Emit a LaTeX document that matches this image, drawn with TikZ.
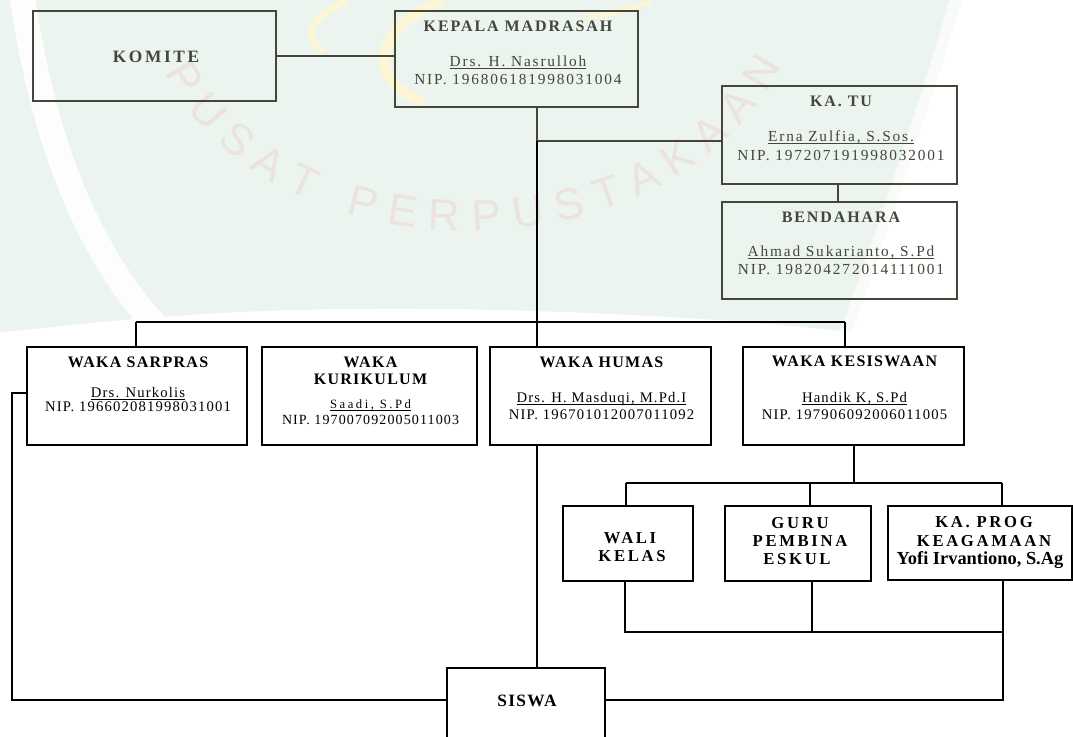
\documentclass[tikz,border=0pt]{standalone}
\usepackage{fontspec}
\setmainfont{Liberation Serif}
\newfontfamily\lsA[LetterSpace=12]{Liberation Serif}
\newfontfamily\lsB[LetterSpace=8]{Liberation Serif}
\newfontfamily\lsC[LetterSpace=16]{Liberation Serif}
\newfontfamily\lsK[LetterSpace=15]{Liberation Serif}
\newfontfamily\lsS[LetterSpace=20]{Liberation Serif}
\newfontfamily\wmf{Liberation Sans}
\usetikzlibrary{fit,decorations.text}
\newcommand\ulin[1]{\setbox0\hbox{#1}\rlap{\rule[-1.9pt]{\wd0}{0.55pt}}\box0}
\definecolor{topc}{HTML}{45453A}
\definecolor{mint}{HTML}{EBF4EE}
\definecolor{wmy}{HTML}{FCF5D6}
\definecolor{wmt}{HTML}{ECE2E2}
\tikzset{
  box/.style={draw, rectangle, inner sep=0pt, line width=0.8pt},
  lbl/.style={anchor=base, inner sep=0pt},
  ttl/.style={lbl, font=\lsA\fontsize{12}{14}\selectfont\bfseries},
  reg/.style={lbl, font=\lsA\fontsize{11.5}{14}\selectfont},
  ttlb/.style={lbl, font=\lsB\fontsize{12}{14}\selectfont\bfseries},
  regb/.style={lbl, font=\lsB\fontsize{11}{13}\selectfont},
  ttlc/.style={lbl, font=\lsC\fontsize{12.5}{14}\selectfont\bfseries},
  conn/.style={line width=0.8pt},
}
\begin{document}
\begin{tikzpicture}[x=0.75pt, y=-0.75pt]
\clip (0,0) rectangle (1073,736);
\fill[white] (0,0) rectangle (1073,736);
% watermark approximation
\fill[mint] (0,0) -- (962,0) .. controls (935,90) and (885,240) .. (852,332)
  .. controls (650,310) and (350,300) .. (150,318) .. controls (90,322) and (30,330) .. (0,332) -- cycle;
\draw[white, line width=19pt, opacity=0.85] (22,-5) .. controls (40,120) and (80,250) .. (165,335);
\draw[white, line width=16pt, opacity=0.7] (962,-5) .. controls (935,90) and (885,240) .. (850,335);
\path[decorate, decoration={text along path, text align={fit to path}, text color=wmt,
  text={|\wmf\fontsize{33}{33}\selectfont|PUSAT PERPUSTAKAAN}}]
  (165,72) .. controls (270,285) and (670,285) .. (782,66);
\draw[wmy, line width=5pt, line cap=round] (345,2) .. controls (308,18) and (303,40) .. (322,50);
\draw[wmy, line width=8pt, line cap=round] (440,2) .. controls (372,30) and (367,80) .. (420,100);
\draw[wmy, line width=4pt, line cap=round] (650,2) .. controls (620,12) and (600,18) .. (585,16);

\node[box, draw=topc, fit={(33,11) (276,101)}] (komite) {};
\node[box, draw=topc, fit={(395,11) (638,107)}] (kepala) {};
\node[box, draw=topc, fit={(722,86) (957,184)}] (katu) {};
\node[box, draw=topc, fit={(722,202) (957,299)}] (bend) {};
\node[lbl, font=\lsK\fontsize{13}{15}\selectfont\bfseries, text=topc] (tkomite) at (156,62.5) {KOMITE};
\node[ttl, text=topc] (tkepala) at (518,31.5) {KEPALA MADRASAH};
\node[reg, text=topc] (nkepala) at (518,66) {\ulin{Drs. H. Nasrulloh}};
\node[reg, text=topc] (pkepala) at (518,84) {NIP. 196806181998031004};
\node[ttl, text=topc] (tkatu) at (841,106) {KA. TU};
\node[reg, text=topc] (nkatu) at (841,141) {\ulin{Erna Zulfia, S.Sos.}};
\node[reg, text=topc] (pkatu) at (841,160) {NIP. 197207191998032001};
\node[ttl, text=topc] (tbend) at (841,222) {BENDAHARA};
\node[reg, text=topc] (nbend) at (841,256) {\ulin{Ahmad Sukarianto, S.Pd}};
\node[reg, text=topc] (pbend) at (841,274) {NIP. 198204272014111001};

\draw[conn, topc] (komite.east) -- (komite.east -| kepala.west);
\coordinate (kb) at (kepala.south -| 537,0);
\coordinate (kj) at (537,141);
\draw[conn, topc] (kb) -- (kj) -- (katu.west |- kj);
\draw[conn, topc] (katu.south -| 838,0) -- (bend.north -| 838,0);

% row 2
\node[box, fit={(27,347) (247,445)}] (sarpras) {};
\node[box, fit={(262,347) (477,445)}] (kurik) {};
\node[box, fit={(490,347) (711,445)}] (humas) {};
\node[box, fit={(743,347) (964,445)}] (kesis) {};
\node[ttlb] (tsar) at (138,367) {WAKA SARPRAS};
\node[regb] (nsar) at (138,397) {\ulin{Drs. Nurkolis}};
\node[regb] (psar) at (138,411) {NIP. 196602081998031001};
\node[ttlb] (tkur1) at (370.5,367) {WAKA};
\node[ttlb] (tkur2) at (370.5,384) {KURIKULUM};
\node[lbl, font=\lsS\fontsize{9.5}{11}\selectfont] (nkur) at (370.5,408) {\ulin{Saadi, S.Pd}};
\node[lbl, font=\lsB\fontsize{10.5}{12}\selectfont] (pkur) at (370.5,424) {NIP. 197007092005011003};
\node[ttlb] (thum) at (601.5,367) {WAKA HUMAS};
\node[regb] (nhum) at (601.5,402) {\ulin{Drs. H. Masduqi, M.Pd.I}};
\node[regb] (phum) at (601.5,419) {NIP. 196701012007011092};
\node[ttlb] (tkes) at (854.5,366) {WAKA KESISWAAN};
\node[regb] (nkes) at (854.5,402) {\ulin{Handik K, S.Pd}};
\node[regb] (pkes) at (854.5,419) {NIP. 197906092006011005};

\coordinate (busL) at (136,322);
\coordinate (busR) at (845,322);
\draw[conn] (kj) -- (537,322);
\draw[conn] (busL) -- (busR);
\draw[conn] (busL) -- (sarpras.north -| busL);
\draw[conn] (537,322) -- (humas.north -| 537,0);
\draw[conn] (busR) -- (kesis.north -| busR);

% row 3
\node[box, fit={(563,506) (693,581)}] (wali) {};
\node[box, fit={(725,506) (871,581)}] (guru) {};
\node[box, fit={(888,506) (1072,580)}] (kaprog) {};
\node[ttlc] (twali1) at (630,543) {WALI};
\node[ttlc] (twali2) at (632,561) {KELAS};
\node[ttlc] (tguru1) at (800,528) {GURU};
\node[ttlc] (tguru2) at (800,546) {PEMBINA};
\node[ttlc] (tguru3) at (797,564) {ESKUL};
\node[ttlc] (tkap1) at (984,527) {KA. PROG};
\node[ttlc] (tkap2) at (984,546) {KEAGAMAAN};
\node[lbl, font=\fontsize{13.8}{15}\selectfont\bfseries] (tkap3) at (980,564) {Yofi Irvantiono, S.Ag};

\coordinate (kes1) at (854,483);
\coordinate (b3L) at (626,483);
\coordinate (b3R) at (1002,483);
\draw[conn] (kesis.south -| kes1) -- (kes1);
\draw[conn] (b3L) -- (b3R);
\draw[conn] (b3L) -- (wali.north -| b3L);
\draw[conn] (810,483) -- (guru.north -| 810,0);
\draw[conn] (b3R) -- (kaprog.north -| b3R);

% siswa
\node[box, fit={(447,668) (605,760)}] (siswa) {};
\node[lbl, font=\lsB\fontsize{13}{15}\selectfont\bfseries] (tsis) at (527,706) {SISWA};
\coordinate (lowL) at (625,632);
\coordinate (lowR) at (1003,632);
\draw[conn] (wali.south -| lowL) -- (lowL) -- (lowR);
\draw[conn] (guru.south -| 812,0) -- (812,632);
\draw[conn] (kaprog.south -| lowR) -- (1003,700) -- (siswa.east |- 0,700);
\draw[conn] (humas.south -| 537,0) -- (siswa.north -| 537,0);
\draw[conn] (sarpras.west |- 0,393) -- (12,393) -- (12,700) -- (siswa.west |- 0,700);
\end{tikzpicture}
\end{document}
